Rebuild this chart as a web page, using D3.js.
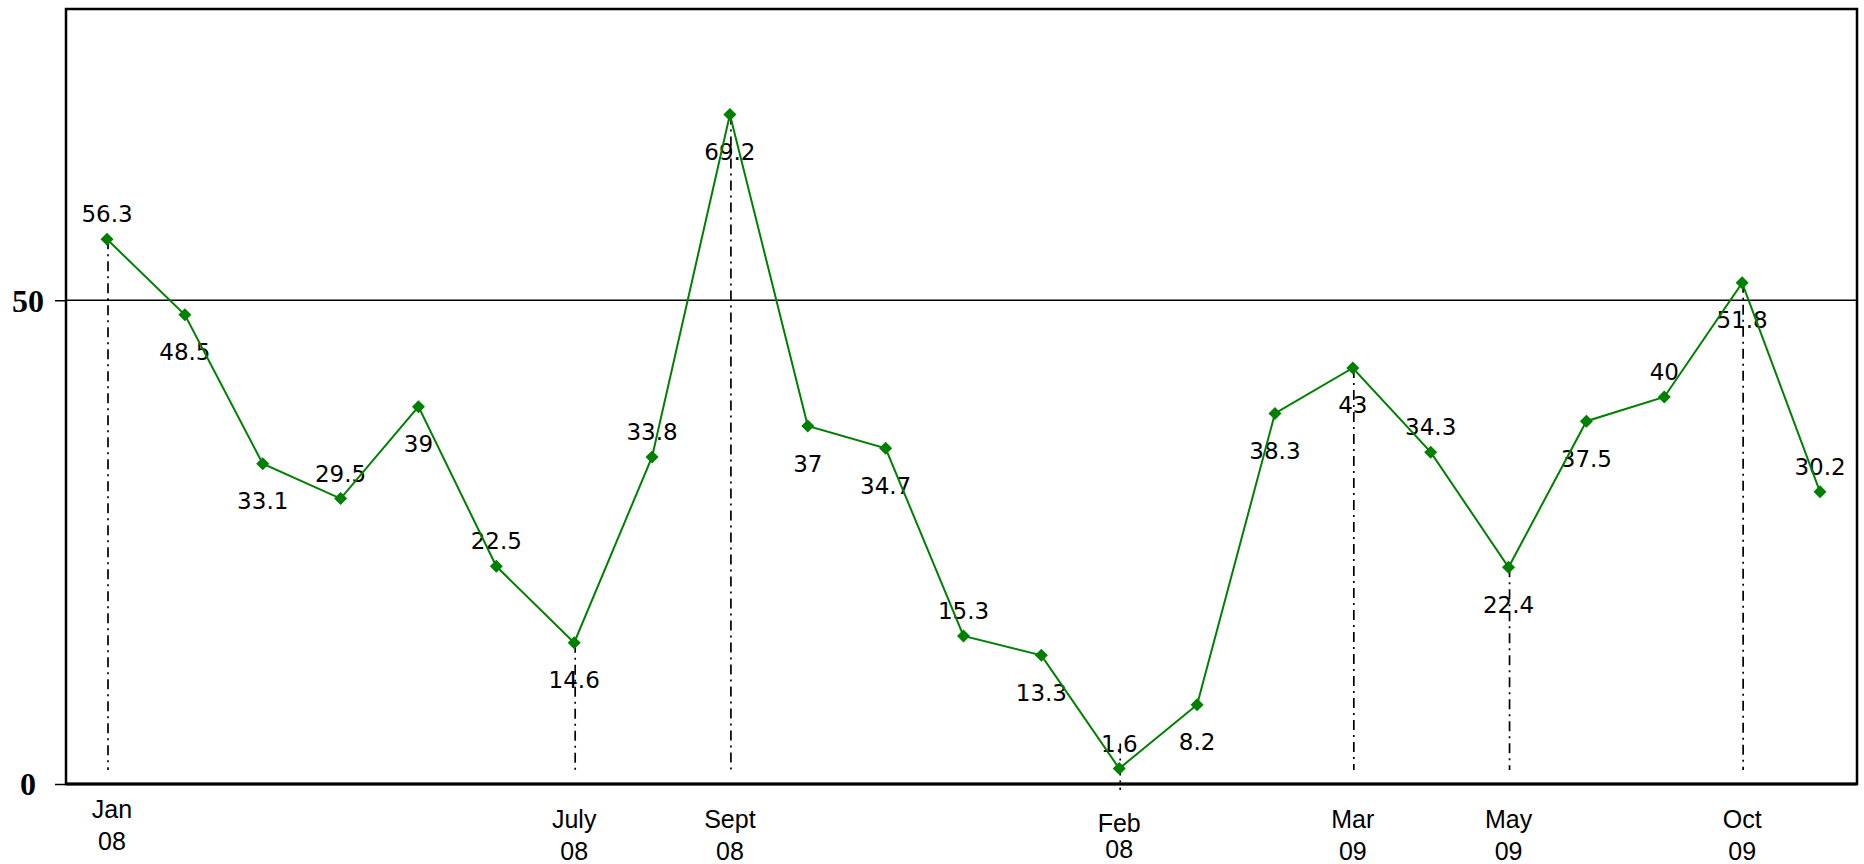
<!DOCTYPE html>
<html>
<head>
<meta charset="utf-8">
<script src="https://cdn.jsdelivr.net/npm/d3@7"></script>
<style>
  html, body { margin: 0; padding: 0; background: #fff; }
  svg { display: block; }
</style>
</head>
<body>
<svg id="chart" width="1864" height="864"></svg>
<script>
// ---- data ----
const values = [56.3, 48.5, 33.1, 29.5, 39, 22.5, 14.6, 33.8, 69.2, 37, 34.7, 15.3, 13.3, 1.6, 8.2, 38.3, 43, 34.3, 22.4, 37.5, 40, 51.8, 30.2];
const labelSide = ["above","below","below","above","below","above","below","above","below","below","below","above","below","above","below","below","below","above","below","below","above","below","above"];
const markedIndex = [0, 6, 8, 13, 16, 18, 21];
const markedMonth = ["Jan", "July", "Sept", "Feb", "Mar", "May", "Oct"];
const markedYear  = ["08", "08", "08", "08", "09", "09", "09"];
const yTicks = [0, 50];
const yMax = 80;

// ---- layout ----
const W = 1864, H = 864;
const plot = { left: 66, right: 1857, top: 9, bottom: 784 };
const green = "#008000";

const svg = d3.select("#chart");

const x = d3.scalePoint()
  .domain(d3.range(values.length))
  .range([107, 1820]);

const y = d3.scaleLinear()
  .domain([0, yMax])
  .range([plot.bottom, plot.top + 1]);

// Frame
svg.append("rect")
  .attr("x", plot.left).attr("y", plot.top)
  .attr("width", plot.right - plot.left)
  .attr("height", plot.bottom - plot.top)
  .attr("fill", "none").attr("stroke", "#000").attr("stroke-width", 2.5);
svg.append("line")
  .attr("x1", plot.left).attr("x2", plot.right)
  .attr("y1", plot.bottom).attr("y2", plot.bottom)
  .attr("stroke", "#000").attr("stroke-width", 3.2);

// Y axis
const yAxis = d3.axisLeft(y).tickValues(yTicks).tickSize(11).tickPadding(0).tickFormat(d3.format("d"));
const gy = svg.append("g").attr("transform", `translate(${plot.left},0)`).call(yAxis);
gy.select(".domain").remove();
gy.selectAll(".tick line").attr("stroke", "#000").attr("stroke-width", 1.5);
gy.selectAll(".tick text")
  .attr("x", 28 - plot.left)
  .attr("text-anchor", "middle")
  .attr("dy", "0.34em")
  .attr("fill", "#000")
  .style("font-family", "'Liberation Serif', 'Times New Roman', serif")
  .style("font-weight", "bold")
  .style("font-size", "32px");

// Gridline at 50
svg.selectAll("line.grid")
  .data(yTicks.filter(d => d > 0))
  .enter().append("line")
  .attr("class", "grid")
  .attr("x1", plot.left).attr("x2", plot.right)
  .attr("y1", d => y(d)).attr("y2", d => y(d))
  .attr("stroke", "#000").attr("stroke-width", 1.6);

// Data labels (drawn below lines)
svg.append("g").selectAll("text")
  .data(values)
  .enter().append("text")
  .attr("x", (d, i) => x(i))
  .attr("y", (d, i) => labelSide[i] === "above" ? y(d) - 17 : y(d) + 45.5)
  .attr("text-anchor", "middle")
  .attr("fill", "#000")
  .style("font-family", "'DejaVu Sans', sans-serif")
  .style("font-size", "23px")
  .text(d => d);

// Dash-dot drop lines
svg.append("g").selectAll("line")
  .data(markedIndex)
  .enter().append("line")
  .each(function(i) {
    let y1 = y(values[i]);
    let y2 = y(0) - 14;
    if (y2 - y1 < 20) { y1 = y(values[i]) - 25; y2 = y(0) + 6; }
    d3.select(this)
      .attr("x1", x(i) + 1).attr("x2", x(i) + 1)
      .attr("y1", y1).attr("y2", y2);
  })
  .attr("stroke", "#000")
  .attr("stroke-width", 1.7)
  .attr("stroke-dasharray", "10,5,2,5");

// Line
const line = d3.line().x((d, i) => x(i)).y(d => y(d));
svg.append("path")
  .datum(values)
  .attr("d", line)
  .attr("fill", "none")
  .attr("stroke", green)
  .attr("stroke-width", 2);

// Diamond markers
const diamond = d3.symbol().type(d3.symbolSquare).size(85);
svg.append("g").selectAll("path")
  .data(values)
  .enter().append("path")
  .attr("d", diamond)
  .attr("transform", (d, i) => `translate(${x(i)},${y(d)}) rotate(45)`)
  .attr("fill", green);

// X labels (two lines)
const rowShift = { 0: -10, 13: 4 };
const rowGap = { 13: 26 };
const xl = svg.append("g").selectAll("text")
  .data(markedIndex)
  .enter().append("text")
  .attr("text-anchor", "middle")
  .attr("fill", "#000")
  .style("font-family", "'Liberation Sans', Arial, sans-serif")
  .style("font-size", "25px")
  .attr("transform", (d, k) => `translate(${x(d) + (k === 0 ? 5 : 0)},${plot.bottom + 44 + (rowShift[d] || 0)})`);
xl.append("tspan").attr("x", 0).attr("y", 0).text((d, k) => markedMonth[k]);
xl.append("tspan").attr("x", 0).attr("y", d => rowGap[d] || 32).text((d, k) => markedYear[k]);
</script>
</body>
</html>
